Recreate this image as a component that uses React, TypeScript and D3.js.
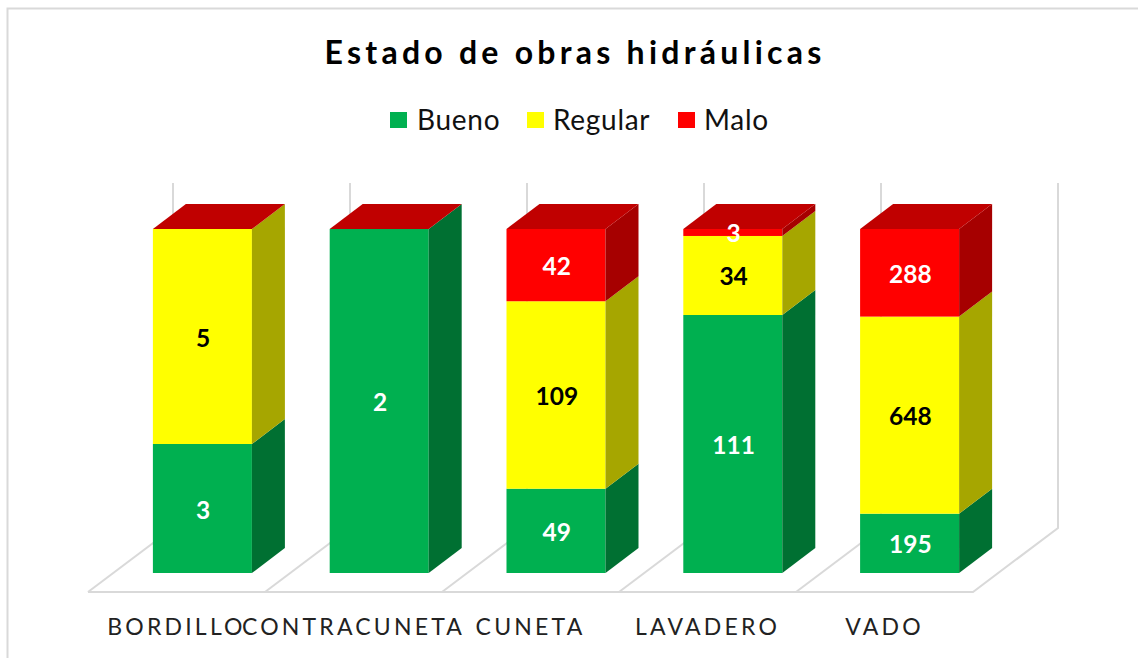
import React from 'react'
import * as d3 from 'd3'

const categories = ['BORDILLO', 'CONTRACUNETA', 'CUNETA', 'LAVADERO', 'VADO']
const seriesNames = ['Bueno', 'Regular', 'Malo']
const bueno = [3, 2, 49, 111, 195]
const regular = [5, 0, 109, 34, 648]
const malo = [0, 0, 42, 3, 288]

const front = ['#00B050', '#FFFF00', '#FF0000']
const side = ['#007032', '#A6A600', '#A60000']
const labelColor = ['#fff', '#000', '#fff']
const topColor = '#C00000'
const grid = '#d9d9d9'
const font = 'Lato, "Open Sans", sans-serif'

// oblique depth of the 3D box
const depthX = 33
const depthY = 25

const rows = categories.map((c, i) => ({ cat: c, Bueno: bueno[i], Regular: regular[i], Malo: malo[i] }))
const stacked = d3.stack<any>().keys(seriesNames).offset(d3.stackOffsetExpand)(rows)

const x = d3.scaleBand().domain(categories).range([114, 998]).paddingInner(0.44).paddingOuter(0.22)
const y = d3.scaleLinear().domain([0, 1]).range([573, 229])
// floor band, the axis labels sit under it
const xFloor = d3.scaleBand().domain(categories).range([88, 973])

const line = d3.line()

export default function App() {
  const floorY = 592
  const backY = 528
  const topY = 183
  const backDx = 85
  const gridXs = [...categories.map(c => xFloor(c)!), 973]

  return (
    <svg width={1138} height={658} style={{ position: 'absolute', left: 0, top: 0, background: '#fff' }}>
      <rect x={7.5} y={8.5} width={1200} height={800} fill="none" stroke={grid} strokeWidth={2} />

      <text x={575} y={64} textAnchor="middle" fontFamily={font} fontWeight={700} fontSize={32} letterSpacing={4.25} fill="#000">
        Estado de obras hidráulicas
      </text>

      {/* walls and floor */}
      <g fill="none" stroke={grid} strokeWidth={2}>
        <path d={line([[gridXs[0], floorY], [gridXs[5], floorY], [gridXs[5] + backDx, backY], [gridXs[5] + backDx, topY]])!} />
        {gridXs.slice(0, 5).map((g, i) => (
          <path key={i} d={line([[g, floorY], [g + backDx, backY], [g + backDx, topY]])!} />
        ))}
      </g>

      {/* legend */}
      {[[390, 417], [527, 553], [678, 704]].map(([sx, tx], i) => (
        <g key={seriesNames[i]}>
          <rect x={sx} y={112} width={17} height={16} fill={front[i]} />
          <text x={tx} y={130} fontFamily={font} fontSize={28} letterSpacing={0.7} fill="#111">{seriesNames[i]}</text>
        </g>
      ))}

      {/* boxes */}
      {categories.map((c, ci) => {
        const x0 = x(c)!
        const x1 = x0 + x.bandwidth()
        return (
          <g key={c}>
            {stacked.map((s, si) => {
              const yb = y(s[ci][0])
              const yt = y(s[ci][1])
              if (yb === yt) return null
              return (
                <g key={si}>
                  <rect x={x0} y={yt} width={x1 - x0} height={yb - yt} fill={front[si]} />
                  <path d={line([[x1, yb], [x1 + depthX, yb - depthY], [x1 + depthX, yt - depthY], [x1, yt]])! + 'Z'} fill={side[si]} />
                </g>
              )
            })}
            <path d={line([[x0, y(1)], [x0 + depthX, y(1) - depthY], [x1 + depthX, y(1) - depthY], [x1, y(1)]])! + 'Z'} fill={topColor} />
          </g>
        )
      })}

      {/* value labels */}
      {categories.map((c, ci) =>
        stacked.map((s, si) => {
          const v = [bueno, regular, malo][si][ci]
          if (!v) return null
          return (
            <text key={c + si} x={x(c)! + x.bandwidth() / 2 + 0.8} y={(y(s[ci][0]) + y(s[ci][1])) / 2 + 10}
              textAnchor="middle" fontFamily={font} fontWeight={700} fontSize={24.5} fill={labelColor[si]}>
              {v}
            </text>
          )
        })
      )}

      {/* category labels */}
      {categories.map(c => (
        <text key={c} x={xFloor(c)! + xFloor.bandwidth() / 2} y={635} textAnchor="middle" fontFamily={font}
          fontSize={23} letterSpacing={3.2} fill="#222">
          {c}
        </text>
      ))}
    </svg>
  )
}
